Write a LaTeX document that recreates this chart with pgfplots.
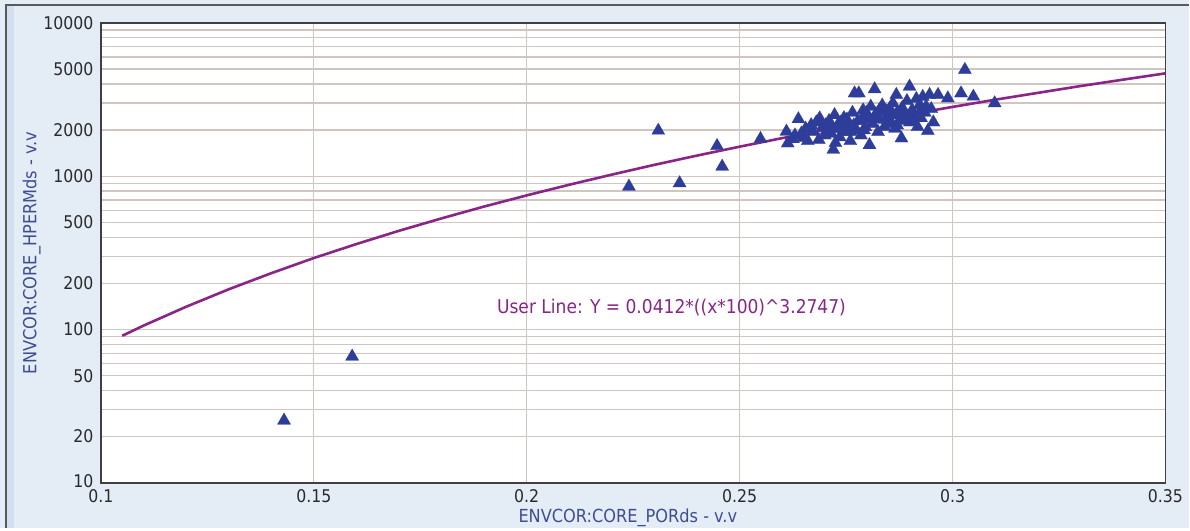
\documentclass[border=0pt]{standalone}
\usepackage{pgfplots}
\usepackage{pgfplotstable}
\pgfplotsset{compat=1.18}
\usepackage{fontspec}
\setmainfont{DejaVu Sans Condensed}

\definecolor{panelblue}{HTML}{E4ECF6}
\definecolor{edgeblue}{HTML}{D3E0F0}
\definecolor{gridtan}{HTML}{CFC6C2}
\definecolor{framegray}{HTML}{404040}
\definecolor{ptblue}{HTML}{2E3D99}
\definecolor{lineplum}{HTML}{8A2487}
\definecolor{labelblue}{HTML}{3E4E92}
\definecolor{ticktext}{HTML}{2A2A2A}

% core samples: porosity (v/v) and horizontal permeability
\pgfplotstableread{
por     perm
0.1430  25.5
0.1590  66.7
0.2240  857
0.2309  1986
0.2359  902
0.2447  1578
0.2459  1157
0.2549  1754
0.2610  1960
0.2613  1640
0.2625  1750
0.2630  1850
0.2638  2360
0.2645  1900
0.2650  1780
0.2655  2050
0.2660  1700
0.2668  2160
0.2672  1950
0.2680  2250
0.2686  1730
0.2688  2390
0.2695  2100
0.2700  1850
0.2705  2000
0.2710  2300
0.2715  1900
0.2720  1490
0.2723  2510
0.2725  1650
0.2730  2150
0.2735  1800
0.2740  2050
0.2745  2400
0.2750  1950
0.2755  2200
0.2760  1700
0.2765  2600
0.2770  3480
0.2772  2000
0.2778  2300
0.2780  3480
0.2785  1850
0.2790  2700
0.2795  2100
0.2800  2450
0.2805  1600
0.2808  2850
0.2812  2200
0.2817  3700
0.2820  2550
0.2825  1950
0.2830  2350
0.2835  2900
0.2840  2100
0.2845  2650
0.2850  2400
0.2855  2200
0.2860  3000
0.2865  2050
0.2868  3400
0.2870  2600
0.2875  2300
0.2880  1770
0.2882  2800
0.2888  2450
0.2893  3100
0.2899  3850
0.2900  2250
0.2905  2700
0.2910  2500
0.2915  3200
0.2918  2100
0.2922  2900
0.2926  2400
0.2930  3300
0.2935  2600
0.2942  1980
0.2946  3400
0.2950  2750
0.2955  2250
0.2966  3400
0.2989  3230
0.3020  3480
0.3029  4950
0.3049  3310
0.3099  3000
0.2702  2150
0.2718  2050
0.2738  2250
0.2752  2350
0.2768  2150
0.2788  2400
0.2798  2600
0.2815  2400
0.2828  2700
0.2842  2350
0.2852  2750
0.2862  2500
0.2878  2650
0.2892  2350
0.2908  2300
0.2928  2750
0.2938  2850
0.2760  1950
0.2792  2000
0.2870  2150
}\coredata

% user line Y = 0.0412*((x*100)^3.2747)
\pgfplotstableread{
por    perm
0.105  91.0
0.110  106.0
0.120  140.7
0.130  182.9
0.140  233.0
0.150  292.6
0.160  361.0
0.170  440.6
0.180  531.0
0.190  634.5
0.200  750.0
0.210  880.5
0.220  1025
0.230  1187
0.240  1364
0.250  1559
0.260  1773
0.270  2005
0.280  2259
0.290  2535
0.300  2833
0.310  3157
0.320  3498
0.330  3875
0.340  4266
0.350  4692
}\userline

\begin{document}
\begin{tikzpicture}[x=1pt,y=1pt]
  % window panel
  \fill[panelblue] (0,0) rectangle (1190,528);
  \fill[edgeblue] (7,0) rectangle (14,522);
  \draw[gray!70!black, line width=1.2pt] (6,0) -- (6,523) -- (1190,523);

  \begin{axis}[
    at={(101pt,45pt)}, anchor=south west,
    scale only axis, width=1065pt, height=460pt,
    xmin=0.1, xmax=0.35,
    ymode=log, ymin=10, ymax=10000,
    axis background/.style={fill=white},
    axis line style={framegray, line width=1.6pt},
    xtick={0.1,0.15,0.2,0.25,0.3,0.35},
    xticklabels={0.1,0.15,0.2,0.25,0.3,0.35},
    ytick={10,20,50,100,200,500,1000,2000,5000,10000},
    yticklabels={\raisebox{4pt}{10},20,50,100,200,500,1000,2000,5000,10000},
    minor ytick={30,40,60,70,80,90,300,400,600,700,800,900,3000,4000,6000,7000,8000,9000},
    major tick length=0pt, minor tick length=0pt,
    xmajorgrids, ymajorgrids, yminorgrids,
    major grid style={gridtan, line width=1.3pt},
    minor grid style={gridtan, line width=1.3pt},
    /pgf/number format/assume math mode=true,
    tick label style={text=ticktext, font=\fontsize{17.5}{19}\selectfont},
    yticklabel style={xshift=-4pt},
    xticklabel style={yshift=-3pt},
    xlabel={ENVCOR:CORE\_PORds - v.v},
    ylabel={ENVCOR:CORE\_HPERMds - v.v},
    label style={text=labelblue, font=\fontsize{18}{20}\selectfont},
    xlabel style={at={(axis description cs:0.495,-0.077)}, anchor=center},
    ylabel style={at={(axis description cs:-0.065,0.5)}, anchor=center},
  ]
    \addplot[only marks, mark=triangle*, mark size=7.6pt,
             mark options={fill=ptblue, draw=ptblue, line width=0.2pt}]
      table[x=por, y=perm] {\coredata};
    \addplot[lineplum, line width=2.6pt, no marks]
      table[x=por, y=perm] {\userline};
    \node[text=lineplum, font=\fontsize{19}{21}\selectfont, anchor=center]
      at (axis cs:0.2340,138.6) {User Line: Y = 0.0412*((x*100)\textasciicircum 3.2747)};
  \end{axis}
\end{tikzpicture}
\end{document}
